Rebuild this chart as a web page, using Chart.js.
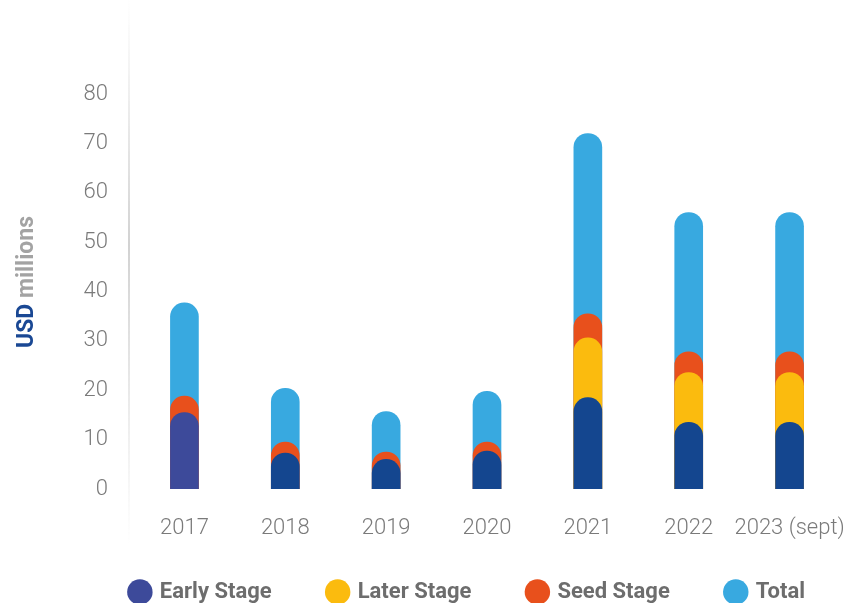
<!DOCTYPE html>
<html>
<head>
<meta charset="utf-8">
<script src="https://cdn.jsdelivr.net/npm/chart.js@4.4.0/dist/chart.umd.min.js"></script>
<style>
  html, body { margin: 0; padding: 0; background: #ffffff; }
  #wrap { width: 862px; height: 603px; position: relative; }
</style>
</head>
<body>
<div id="wrap"><canvas id="chart" width="862" height="603"></canvas></div>
<script>
// Data (USD millions)
const years = ['2017', '2018', '2019', '2020', '2021', '2022', '2023 (sept)'];
const earlyStage = [15.5, 7.3, 6.0, 7.7, 18.5, 13.5, 13.5];
const laterStage = [null, null, null, null, 30.6, 23.6, 23.6];
const seedStage = [18.8, 9.5, 7.5, 9.5, 35.5, 27.8, 27.8];
const totals = [37.7, 20.4, 15.7, 19.8, 72, 56, 56];
const yTicks = [0, 10, 20, 30, 40, 50, 60, 70, 80];

const colors = {
    early: '#14468f',
    early2017: '#3d4a9a',
    later: '#fbbb0e',
    seed: '#e8501c',
    total: '#38a9e0'
};

const labelGray = '#7a7a7a';
const leftPad = 70;

// faint fading axis line on the left + two-colour axis title
const decorPlugin = {
    id: 'decor',
    afterLayout(chart) {
        // let the x labels draw below the (short) axis box without clipping
        chart.scales.x.bottom += 40;
    },
    beforeDatasetsDraw(chart) {
        const ctx = chart.ctx;
        const x = chart.chartArea.left - 5;
        const grad = ctx.createLinearGradient(0, 0, 0, 545);
        grad.addColorStop(0, 'rgba(215,215,215,0)');
        grad.addColorStop(0.45, 'rgba(210,210,210,1)');
        grad.addColorStop(1, 'rgba(215,215,215,0)');
        ctx.save();
        ctx.strokeStyle = grad;
        ctx.lineWidth = 2;
        ctx.beginPath();
        ctx.moveTo(x, 0);
        ctx.lineTo(x, 545);
        ctx.stroke();
        ctx.restore();
    },
    afterDraw(chart) {
        const ctx = chart.ctx;
        ctx.save();
        ctx.translate(27, 282);
        ctx.rotate(-Math.PI / 2);
        ctx.font = 'bold 23px Roboto';
        ctx.textBaseline = 'middle';
        const a = 'USD', b = ' millions';
        const wa = ctx.measureText(a).width;
        const wb = ctx.measureText(b).width;
        const start = -(wa + wb) / 2;
        ctx.textAlign = 'left';
        ctx.fillStyle = '#1a4894';
        ctx.fillText(a, start, 0);
        ctx.fillStyle = '#a3a3a3';
        ctx.fillText(b, start + wa, 0);
        ctx.restore();
    }
};

const barCommon = {
    barThickness: 28,
    borderRadius: 14,
    borderSkipped: 'start',
    grouped: false
};

new Chart(document.getElementById('chart'), {
    type: 'bar',
    data: {
        labels: years,
        datasets: [
            { label: 'Early Stage', data: earlyStage,
              backgroundColor: earlyStage.map((v, i) => i === 0 ? colors.early2017 : colors.early), ...barCommon },
            { label: 'Later Stage', data: laterStage, backgroundColor: colors.later, ...barCommon },
            { label: 'Seed Stage', data: seedStage, backgroundColor: colors.seed, ...barCommon },
            { label: 'Total', data: totals, backgroundColor: colors.total, ...barCommon }
        ]
    },
    options: {
        responsive: false,
        animation: false,
        layout: { padding: { top: 94, bottom: -10, left: leftPad, right: 0 } },
        plugins: {
            tooltip: { enabled: false },
            legend: {
                position: 'bottom',
                align: 'end',
                labels: {
                    usePointStyle: true,
                    pointStyle: 'circle',
                    boxWidth: 18,
                    boxHeight: 18,
                    padding: 57,
                    color: '#6d6d6d',
                    font: { family: 'Roboto', weight: 'bold', size: 22 }
                }
            }
        },
        scales: {
            x: {
                grid: { display: false, drawTicks: false },
                border: { display: false },
                ticks: {
                    color: labelGray,
                    padding: 26,
                    maxRotation: 0,
                    autoSkip: false,
                    font: { family: 'Roboto', weight: 300, size: 22 }
                },
                afterFit(scale) {
                    scale.height = 35;
                    scale.paddingLeft = 0;
                    scale.paddingRight = 0;
                }
            },
            y: {
                min: yTicks[0],
                max: yTicks[yTicks.length - 1],
                afterBuildTicks(scale) { scale.ticks = yTicks.map(v => ({ value: v })); },
                grid: { display: false, drawTicks: false },
                border: { display: false },
                ticks: {
                    color: labelGray,
                    padding: 26,
                    font: { family: 'Roboto', weight: 300, size: 22 }
                },
                afterFit(scale) { scale.width = 134 - leftPad; }
            },
            yRight: {
                position: 'right',
                grid: { display: false, drawTicks: false },
                border: { display: false },
                ticks: { display: false },
                afterFit(scale) { scale.width = 22; }
            }
        }
    },
    plugins: [decorPlugin]
});
</script>
</body>
</html>
